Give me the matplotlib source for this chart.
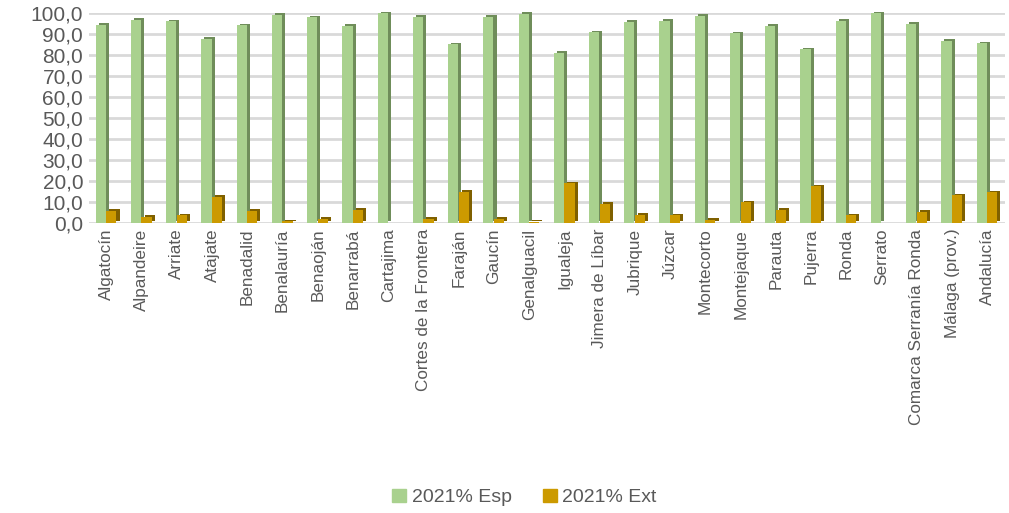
import numpy as np
import matplotlib.pyplot as plt
import matplotlib.patheffects as pe
from matplotlib.patches import Patch

# municipios y porcentajes 2021
municipios = ['Algatocín', 'Alpandeire', 'Arriate', 'Atajate', 'Benadalid', 'Benalauría',
              'Benaoján', 'Benarrabá', 'Cartajima', 'Cortes de la Frontera', 'Faraján',
              'Gaucín', 'Genalguacil', 'Igualeja', 'Jimera de Líbar', 'Jubrique', 'Júzcar',
              'Montecorto', 'Montejaque', 'Parauta', 'Pujerra', 'Ronda', 'Serrato',
              'Comarca Serranía Ronda', 'Málaga (prov.)', 'Andalucía']
esp = [94.3, 96.6, 96.0, 87.6, 94.0, 99.0, 97.8, 93.8, 99.7, 98.0, 85.0, 98.0, 99.4,
       81.0, 90.7, 95.8, 96.3, 98.5, 90.3, 93.8, 82.6, 96.3, 99.8, 94.7, 86.8, 85.5]
ext = [5.7, 3.1, 3.7, 12.4, 6.0, 0.9, 2.0, 6.2, 0.2, 1.9, 15.0, 2.0, 0.5,
       19.0, 9.3, 4.0, 3.7, 1.5, 9.9, 6.2, 17.5, 3.7, 0.2, 5.3, 13.3, 14.7]

verde = '#a9d18e'
verde_osc = '#6f8d5a'
oro = '#cc9a00'
oro_osc = '#7f6000'
gris = '#595959'

plt.rcParams['font.family'] = ['Liberation Sans', 'DejaVu Sans']

fig = plt.figure(figsize=(10.09, 5.13), dpi=100)
ax = fig.add_axes([0.088, 0.565, 0.908, 0.41])

x = np.arange(len(municipios))
w = 0.29
b1 = ax.bar(x - 0.16, esp, w, color=verde, zorder=3, clip_on=False)
b2 = ax.bar(x + 0.14, ext, w, color=oro, zorder=3, clip_on=False)

# efecto 3D aproximado: sombra desplazada (lado y tapa)
for b, c in [(b1, verde_osc), (b2, oro_osc)]:
    for p in b:
        p.set_path_effects([pe.SimplePatchShadow(offset=(2.2, 1.2), shadow_rgbFace=c, alpha=1.0),
                            pe.Normal()])

ax.set_xlim(-0.5, len(municipios) - 0.5)
ax.set_ylim(0, 100)
ax.set_yticks(np.arange(0, 101, 10))
ax.set_yticklabels([('%.1f' % v).replace('.', ',') for v in np.arange(0, 101, 10)],
                   fontsize=15, color=gris)
ax.set_xticks(x)
ax.set_xticklabels(municipios, rotation=90, fontsize=12.3, color=gris)
ax.tick_params(length=0, pad=4)
ax.grid(axis='y', color='#d9d9d9', linewidth=2, zorder=0)
for s in ax.spines.values():
    s.set_visible(False)

handles = [Patch(color=verde, label='2021% Esp'), Patch(color=oro, label='2021% Ext')]
fig.legend(handles=handles, loc='center', bbox_to_anchor=(0.52, 0.03), ncol=2,
           frameon=False, fontsize=14, labelcolor=gris, handlelength=0.7,
           handleheight=0.7, handletextpad=0.3, columnspacing=1.6)

fig.savefig('out.png', dpi=100)
